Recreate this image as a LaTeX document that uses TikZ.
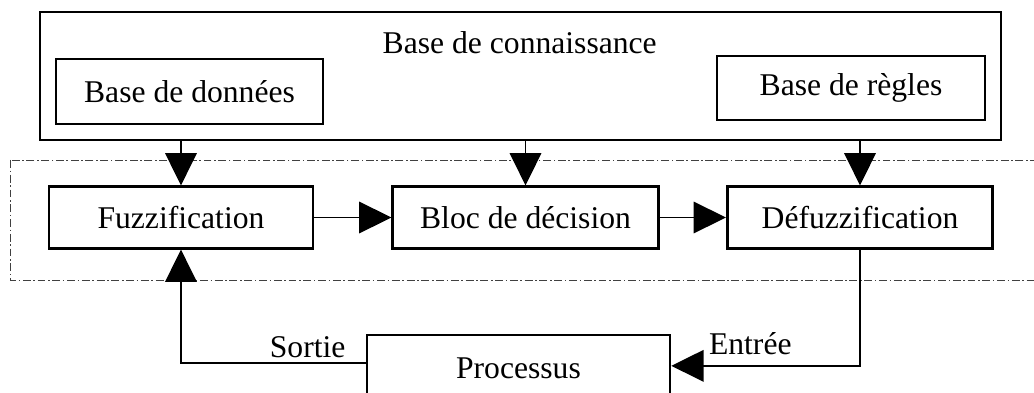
\documentclass[tikz,border=0pt]{standalone}
\usepackage{fontspec}
\setmainfont{Liberation Serif}
\usetikzlibrary{arrows.meta}
\begin{document}
\begin{tikzpicture}[font=\fontsize{12}{14}\selectfont,
	bloc/.style={draw,line width=1pt,minimum height=.82cm,inner sep=0pt},
	fleche/.style={semithick,-{Triangle[length=.43cm,width=.42cm]}},
	zone/.style={draw=black!75,line width=.35pt,dash pattern=on 3pt off 1pt on .6pt off 1pt}]
	\useasboundingbox (0,0) rectangle (13.787,-5.227);
	\def\LarGeur{3.54}%largeur des blocs
	% base de connaissance
	\node[bloc,minimum width=12.81cm,minimum height=1.707cm] (kb) at (6.94,-1.013) {};
	\node[anchor=base] (titre) at (6.93,-.71) {Base de connaissance};
	\node[bloc,minimum width=3.56cm,minimum height=.867cm] (donnees) at (2.527,-1.22) {Base de donn\'ees};
	\node[bloc,minimum width=3.573cm,minimum height=.853cm] (regles) at (11.347,-1.173) {Base de r\`egles};
	% controleur flou
	\draw[zone] (.133,-2.133) rectangle (13.85,-3.733);
	\node[bloc,minimum width=3.52cm] (fuzz) at (2.413,-2.9) {Fuzzification};
	\node[bloc,minimum width=\LarGeur cm] (decision) at (7.007,-2.9) {Bloc de d\'ecision};
	\node[bloc,minimum width=\LarGeur cm] (defuzz) at (11.467,-2.9) {D\'efuzzification};
	\node[bloc,minimum width=4.04cm,minimum height=.893cm] (proc) at (6.913,-4.913) {Processus};
	\foreach \n in {fuzz,decision,defuzz}
		\draw[fleche] (\n.north |- kb.south)--(\n.north);
	\draw[fleche] (fuzz)--(decision);
	\draw[fleche] (decision)--(defuzz);
	% boucle
	\draw[fleche] ([yshift=2pt]proc.west) -| (fuzz.south);
	\draw[fleche] (defuzz.south) |- ([yshift=1pt]proc.east);
	\node[anchor=base east] (sortie) at (4.73,-4.76) {Sortie};
	\node[anchor=base west] (entree) at (9.33,-4.733) {Entr\'ee};
\end{tikzpicture}
\end{document}
